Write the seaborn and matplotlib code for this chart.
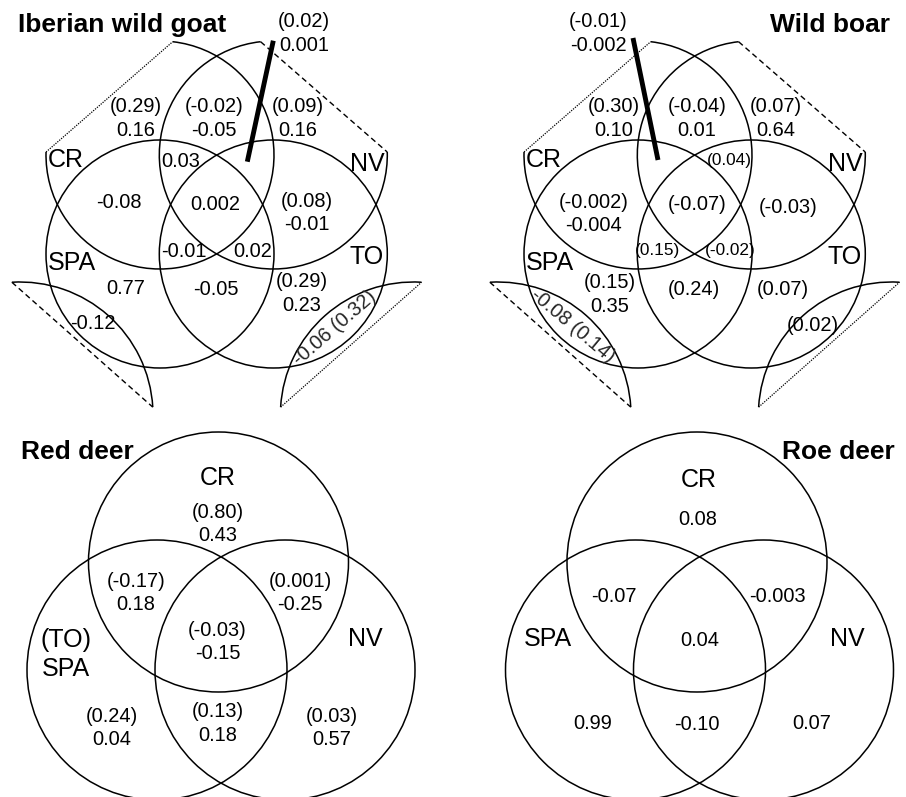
import numpy as np
import matplotlib
matplotlib.use("Agg")
import matplotlib.pyplot as plt
from matplotlib.patches import Arc, Circle
import seaborn as sns

sns.set_theme(style="white")
plt.rcParams["font.family"] = ["Liberation Sans", "DejaVu Sans"]

# ---------------------------------------------------------------- values
TITLES = ["Iberian wild goat", "Wild boar", "Red deer", "Roe deer"]
SETS_4 = ["CR", "NV", "SPA", "TO"]
SETS_3 = ["CR", "(TO)\nSPA", "NV"]
SETS_3_ROE = ["CR", "SPA", "NV"]

# bracketed value (first line) and plain value (second line) per region
GOAT_PAREN = ["0.02", "0.29", "-0.02", "0.09", None, None, None, "0.08",
              None, None, None, None, "0.29", None]
GOAT_VALUE = ["0.001", "0.16", "-0.05", "0.16", "0.03", "-0.08", "0.002",
              "-0.01", "-0.01", "0.02", "0.77", "-0.05", "0.23", "-0.12"]
GOAT_SPLIT = ["-0.06", "0.32"]

BOAR_PAREN = ["-0.01", "0.30", "-0.04", "0.07", "0.04", "-0.002", "-0.07",
              "-0.03", "0.15", "-0.02", "0.15", "0.24", "0.07", "0.02"]
BOAR_VALUE = ["-0.002", "0.10", "0.01", "0.64", None, "-0.004", None,
              None, None, None, "0.35", None, None, None]
BOAR_SPLIT = ["-0.08", "0.14"]

RED_PAREN = ["0.80", "-0.17", "0.001", "-0.03", "0.24", "0.13", "0.03"]
RED_VALUE = ["0.43", "0.18", "-0.25", "-0.15", "0.04", "0.18", "0.57"]

ROE_PAREN = [None] * 7
ROE_VALUE = ["0.08", "-0.07", "-0.003", "0.04", "0.99", "-0.10", "0.07"]

# ---------------------------------------------------------------- layout (pixels)
W, H = 906, 797
NUM_FS, SMALL_FS, SET_FS, TITLE_FS = 14.4, 12.4, 18, 19
LINE_GAP = 23.5
LW = 1.1

GOAT_POS = [(304, 31.5), (136, 116.5), (214, 116.5), (298, 116.5), (181, 159),
            (119, 200), (215, 202.5), (307, 211), (184, 249), (253, 249.5),
            (126, 286.5), (216, 287), (301.5, 291.5), (92.5, 321.7)]
GOAT_SMALL = []
GOAT_SPLIT_POS = (333, 326, 41)

BOAR_POS = [(598, 31.5), (614, 116.5), (697, 116.5), (776, 116.5), (729, 159),
            (594, 212), (697, 202), (788.5, 205), (657, 249), (730, 249),
            (610, 292.5), (694, 287), (783, 287), (813, 323)]
BOAR_SMALL = [4, 8, 9]
BOAR_SPLIT_POS = (573.5, 324, -40)

RED_POS = [(217.5, 522), (135.8, 591), (300, 591), (217.5, 640),
           (111.7, 726), (217.5, 721.5), (332, 726)]
ROE_POS = [(698, 517.3), (614.3, 594), (777.7, 594), (699.7, 638.7),
           (592.3, 721.3), (696.7, 722), (811.7, 721.3)]

SET4_POS = [(66, 157), (367, 161), (72, 260), (367, 254)]
SET3_POS_RED = [(218, 475.7), (65.5, 652), (365.7, 636.3)]
SET3_POS_ROE = [(698.3, 477), (548.3, 636.7), (847.7, 636.3)]

fig = plt.figure(figsize=(W / 100, H / 100), dpi=100)
ax = fig.add_axes([0, 0, 1, 1])
ax.set_xlim(0, W)
ax.set_ylim(H, 0)
ax.set_aspect("equal")
ax.axis("off")


def pt(c, r, ang):
    a = np.deg2rad(ang)
    return c[0] + r * np.cos(a), c[1] + r * np.sin(a)


def chord(c, r, a1, a2, ls, lw=0.9):
    x1, y1 = pt(c, r, a1)
    x2, y2 = pt(c, r, a2)
    ax.plot([x1, x2], [y1, y2], color="black", lw=lw, linestyle=ls,
            solid_capstyle="butt", dash_capstyle="butt")


def arc(c, r, a1, a2):
    ax.add_patch(Arc(c, 2 * r, 2 * r, theta1=a1, theta2=a2,
                     color="black", lw=LW))


def circle(c, r):
    ax.add_patch(Circle(c, r, fill=False, ec="black", lw=LW))


def txt(x, y, s, fs=NUM_FS, **kw):
    ax.text(x, y, s, fontsize=fs, ha="center", va="center_baseline",
            color="black", **kw)


def region_labels(paren, value, pos, small=()):
    for i, (p, v, (x, y)) in enumerate(zip(paren, value, pos)):
        fs = SMALL_FS if i in small else NUM_FS
        lines = [s for s in (f"({p})" if p is not None else None, v) if s is not None]
        if len(lines) == 2:
            txt(x, y - LINE_GAP / 2, lines[0], fs)
            txt(x, y + LINE_GAP / 2, lines[1], fs)
        else:
            txt(x, y, lines[0], fs)


DASHED = (0, (4, 2.6))
DOTTED = (0, (1, 1))


def four_set(dx, paren, value, pos, small, split, split_pos, pointer):
    r = 114
    tl, tr = (160 + dx, 155), (273.3 + dx, 155)
    bl, br = (160 + dx, 254), (273.3 + dx, 254)
    # upper circles, each with one corner cut off by a chord
    arc(tl, r, 276.4, 181.5)
    chord(tl, r, 181.5, 276.4, DOTTED)
    arc(tr, r, 358.5, 263.6)
    chord(tr, r, 263.6, 358.5, DASHED, lw=1.0)
    circle(bl, r)
    circle(br, r)
    # detached pieces at the lower corners
    rs = 133
    sl, sr = (20 + dx, 415), (413.4 + dx, 415)
    arc(sl, rs, 266.5, 356.6)
    chord(sl, rs, 266.5, 356.6, DASHED, lw=1.0)
    arc(sr, rs, 183.4, 273.5)
    chord(sr, rs, 183.4, 273.5, DOTTED)
    # pointer to the region too small to label
    ax.plot(pointer[0], pointer[1], color="black", lw=3.5,
            solid_capstyle="butt")
    region_labels(paren, value, pos, small)
    x, y, rot = split_pos
    ax.text(x, y, f"{split[0]} ({split[1]})", fontsize=NUM_FS, rotation=rot,
            rotation_mode="anchor", ha="center", va="center_baseline")
    for name, (lx, ly) in zip(SETS_4, SET4_POS):
        txt(lx + dx, ly, name, SET_FS)


four_set(0, GOAT_PAREN, GOAT_VALUE, GOAT_POS, GOAT_SMALL, GOAT_SPLIT,
         GOAT_SPLIT_POS, ([273.3, 247.3], [40.7, 161.7]))
four_set(478, BOAR_PAREN, BOAR_VALUE, BOAR_POS, BOAR_SMALL, BOAR_SPLIT,
         BOAR_SPLIT_POS, ([633, 658], [38, 160]))


def three_set(cx, paren, value, pos, names, name_pos):
    r = 130
    for c in [(cx, 562), (cx - 61.5, 670), (cx + 66.5, 670)]:
        circle(c, r)
    region_labels(paren, value, pos)
    for name, (lx, ly) in zip(names, name_pos):
        if "\n" in name:
            a, b = name.split("\n")
            txt(lx, ly - 14.5, a, SET_FS)
            txt(lx, ly + 14.5, b, SET_FS)
        else:
            txt(lx, ly, name, SET_FS)


three_set(218.5, RED_PAREN, RED_VALUE, RED_POS, SETS_3, SET3_POS_RED)
three_set(697, ROE_PAREN, ROE_VALUE, ROE_POS, SETS_3_ROE, SET3_POS_ROE)

title_kw = dict(fontsize=TITLE_FS, fontweight="bold", va="center_baseline",
                color="black")
ax.text(18.3, 22, TITLES[0], ha="left", **title_kw)
ax.text(889.7, 22.5, TITLES[1], ha="right", **title_kw)
ax.text(20.7, 449.3, TITLES[2], ha="left", **title_kw)
ax.text(894.7, 449.3, TITLES[3], ha="right", **title_kw)

fig.savefig("out.png", dpi=100, facecolor="white")
